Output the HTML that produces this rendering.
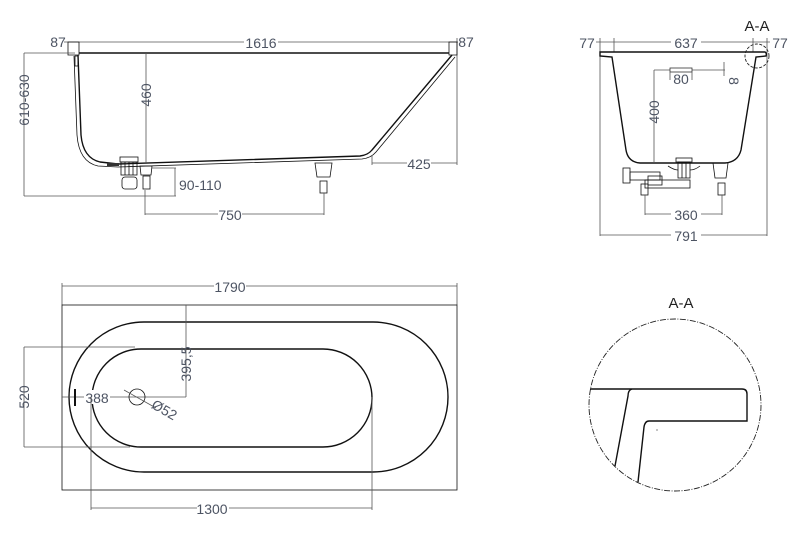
<!DOCTYPE html>
<html><head><meta charset="utf-8"><style>
html,body{margin:0;padding:0;background:#fff;}
svg{display:block;}
text{font-family:"Liberation Sans",sans-serif;font-size:14px;fill:#4d5463;}
.o{fill:none;stroke:#111;stroke-width:1.4;}
.t{fill:none;stroke:#111;stroke-width:0.8;}
.d{fill:none;stroke:#555;stroke-width:0.8;}
</style></head><body>
<svg width="806" height="536" viewBox="0 0 806 536" xmlns="http://www.w3.org/2000/svg">
<!-- ===== Side view ===== -->
<g>
<line class="d" x1="64" y1="42" x2="458" y2="42"/>
<line class="d" x1="457" y1="38" x2="457" y2="165"/>
<rect x="244" y="35" width="34" height="14" fill="#fff"/>
<text x="261" y="48" text-anchor="middle">1616</text>
<text x="58" y="47" text-anchor="middle">87</text>
<text x="466" y="47" text-anchor="middle">87</text>
<path class="t" d="M68 42 H79 V55 H68 Z" stroke-width="1"/>
<path class="t" d="M449 42 H457 V55 H449 Z" stroke-width="1"/>
<line class="o" x1="79" y1="53" x2="449" y2="53" stroke-width="1.6"/>
<path class="o" d="M78 55 L81 135 Q83 158 100 162 L118 164 L360 156 Q368 155 372 150 L452 55"/>
<path class="t" d="M74 56 L77 135 Q79 162 98 166 L118 167 L362 159 Q371 158 376 152 L455 57"/>
<rect class="t" x="75" y="56" width="3" height="10"/>
<!-- drain -->
<rect class="t" x="120" y="157" width="18" height="5" fill="#fff"/>
<rect class="t" x="121" y="162" width="16" height="13" fill="#fff"/>
<line class="t" x1="125" y1="162" x2="125" y2="175"/><line class="t" x1="129" y1="162" x2="129" y2="175"/><line class="t" x1="133" y1="162" x2="133" y2="175"/>
<rect class="t" x="122" y="177" width="15" height="12" rx="3" fill="#fff"/>
<rect x="107" y="163" width="12" height="3" fill="#333"/>
<!-- legs -->
<path class="t" d="M140 166 H152 L151 175 H141 Z"/><rect class="t" x="143" y="176" width="7" height="13"/>
<path class="t" d="M315 163 H332 L330 177 H317 Z"/><rect class="t" x="320" y="181" width="7" height="12"/>
<!-- dims -->
<line class="d" x1="24" y1="53" x2="75" y2="53"/>
<line class="d" x1="24" y1="53" x2="24" y2="196"/>
<line class="d" x1="24" y1="196" x2="176" y2="196"/>
<text transform="translate(29,100) rotate(-90)" text-anchor="middle">610-630</text>
<line class="d" x1="146" y1="53" x2="146" y2="163"/>
<text transform="translate(151,95) rotate(-90)" text-anchor="middle">460</text>
<line class="d" x1="152" y1="168" x2="176" y2="168"/>
<line class="d" x1="175" y1="168" x2="175" y2="196"/>
<text x="179" y="190">90-110</text>
<line class="d" x1="145" y1="190" x2="145" y2="215"/><line class="d" x1="324" y1="193" x2="324" y2="215"/>
<line class="d" x1="145" y1="214" x2="324" y2="214"/>
<rect x="218" y="207" width="24" height="14" fill="#fff"/>
<text x="230" y="220" text-anchor="middle">750</text>
<line class="d" x1="372" y1="155" x2="372" y2="165"/>
<line class="d" x1="372" y1="163" x2="457" y2="163"/>
<rect x="407" y="156" width="24" height="14" fill="#fff"/>
<text x="419" y="169" text-anchor="middle">425</text>
</g>
<!-- ===== End view ===== -->
<g>
<line class="d" x1="596" y1="42" x2="770" y2="42"/>
<line class="d" x1="600" y1="38" x2="600" y2="236"/><line class="d" x1="767" y1="38" x2="767" y2="236"/>
<line class="d" x1="614" y1="38" x2="614" y2="52"/><line class="d" x1="753" y1="38" x2="753" y2="52"/>
<rect x="671" y="35" width="30" height="14" fill="#fff"/>
<text x="686" y="48" text-anchor="middle">637</text>
<text x="587" y="48" text-anchor="middle">77</text>
<text x="780" y="48" text-anchor="middle">77</text>
<text x="757" y="31" text-anchor="middle" style="fill:#222;font-size:15px">A-A</text>
<path class="o" d="M600 52 H765 Q767 53 766 56 L756 57 L741 150 Q738 162 725 163 L640 163 Q628 162 626 150 L612 57 L600 56 Z"/>
<circle cx="757" cy="56" r="12" fill="none" stroke="#222" stroke-width="0.9" stroke-dasharray="3,1.5"/>
<line class="d" x1="654" y1="70" x2="654" y2="163"/>
<line class="d" x1="654" y1="70" x2="725" y2="70"/>
<line class="d" x1="724" y1="62" x2="724" y2="76"/>
<rect x="670" y="68" width="22" height="4" fill="#fff" stroke="#333" stroke-width="0.8"/>
<line class="d" x1="670" y1="72" x2="670" y2="80"/><line class="d" x1="692" y1="72" x2="692" y2="80"/>
<text x="681" y="84" text-anchor="middle">80</text>
<text transform="translate(729,81) rotate(90)" text-anchor="middle">8</text>
<text transform="translate(659,112) rotate(-90)" text-anchor="middle">400</text>
<!-- drain & legs -->
<rect class="t" x="676" y="158" width="16" height="4" fill="#fff"/>
<rect class="t" x="678" y="162" width="12" height="16" fill="#fff"/>
<line class="t" x1="682" y1="162" x2="682" y2="178"/><line class="t" x1="686" y1="162" x2="686" y2="178"/>
<path class="t" d="M668 166 Q674 170 678 170 M690 170 Q695 170 700 166"/>
<rect class="t" x="623" y="168" width="7" height="15" fill="#fff"/>
<rect class="t" x="630" y="172" width="30" height="8" fill="#fff"/>
<rect class="t" x="648" y="176" width="14" height="9" fill="#fff"/>
<rect class="t" x="645" y="180" width="45" height="8" fill="#fff"/>
<path class="t" d="M713 163 H728 L726 178 H715 Z"/><rect class="t" x="718" y="183" width="7" height="12"/>
<rect class="t" x="641" y="184" width="7" height="11"/>
<line class="d" x1="645" y1="195" x2="645" y2="215"/><line class="d" x1="722" y1="195" x2="722" y2="215"/>
<line class="d" x1="645" y1="214" x2="722" y2="214"/>
<rect x="671" y="207" width="30" height="14" fill="#fff"/>
<text x="686" y="220" text-anchor="middle">360</text>
<line class="d" x1="600" y1="235" x2="767" y2="235"/>
<rect x="671" y="228" width="30" height="14" fill="#fff"/>
<text x="686" y="241" text-anchor="middle">791</text>
</g>
<!-- ===== Plan view ===== -->
<g>
<line class="d" x1="62" y1="286" x2="457" y2="286"/>
<line class="d" x1="62" y1="283" x2="62" y2="305"/><line class="d" x1="457" y1="283" x2="457" y2="305"/>
<rect x="214" y="279" width="32" height="14" fill="#fff"/>
<text x="230" y="292" text-anchor="middle">1790</text>
<rect class="t" x="62" y="305" width="395" height="185" stroke-width="1"/>
<rect class="o" x="69" y="322" width="379" height="150" rx="75" ry="75" stroke-width="1.1"/>
<rect class="o" x="92" y="349" width="280" height="98" rx="49" ry="49" stroke-width="1.1"/>
<line class="d" x1="24" y1="347" x2="135" y2="347"/>
<line class="d" x1="24" y1="447" x2="130" y2="447"/>
<line class="d" x1="24" y1="347" x2="24" y2="447"/>
<text transform="translate(29,397) rotate(-90)" text-anchor="middle">520</text>
<line class="d" x1="186" y1="305" x2="186" y2="397"/>
<text transform="translate(191,364) rotate(-90)" text-anchor="middle">395,5</text>
<line class="d" x1="62" y1="397" x2="186" y2="397"/>
<rect x="84" y="390" width="26" height="14" fill="#fff"/>
<text x="97" y="403" text-anchor="middle">388</text>
<rect x="74" y="389" width="2" height="17" fill="#111"/>
<circle cx="137" cy="397" r="8" class="t" stroke-width="1"/>
<line class="d" x1="124" y1="390" x2="156" y2="408"/>
<text transform="translate(162,414) rotate(30)" text-anchor="middle">Ø52</text>
<line class="d" x1="91" y1="397" x2="91" y2="510"/><line class="d" x1="372" y1="397" x2="372" y2="510"/>
<line class="d" x1="91" y1="508" x2="372" y2="508"/>
<rect x="197" y="501" width="32" height="14" fill="#fff"/>
<text x="212" y="514" text-anchor="middle">1300</text>
</g>
<!-- ===== Detail A-A ===== -->
<g>
<text x="681" y="308" text-anchor="middle" style="fill:#222;font-size:15px">A-A</text>
<circle cx="675" cy="405" r="86" fill="none" stroke="#222" stroke-width="0.9" stroke-dasharray="6,1.5,1,1.5"/>
<path class="o" d="M590 389 H742 Q747 389 747 394 V421 H649 Q645 421 644 427 L638 482" stroke-width="1.1"/>
<path class="o" d="M632 389 Q628 390 628 396 L615 466" stroke-width="1.1"/>
<circle cx="657" cy="430" r="0.6" fill="#333"/>
</g>
</svg>
</body></html>
